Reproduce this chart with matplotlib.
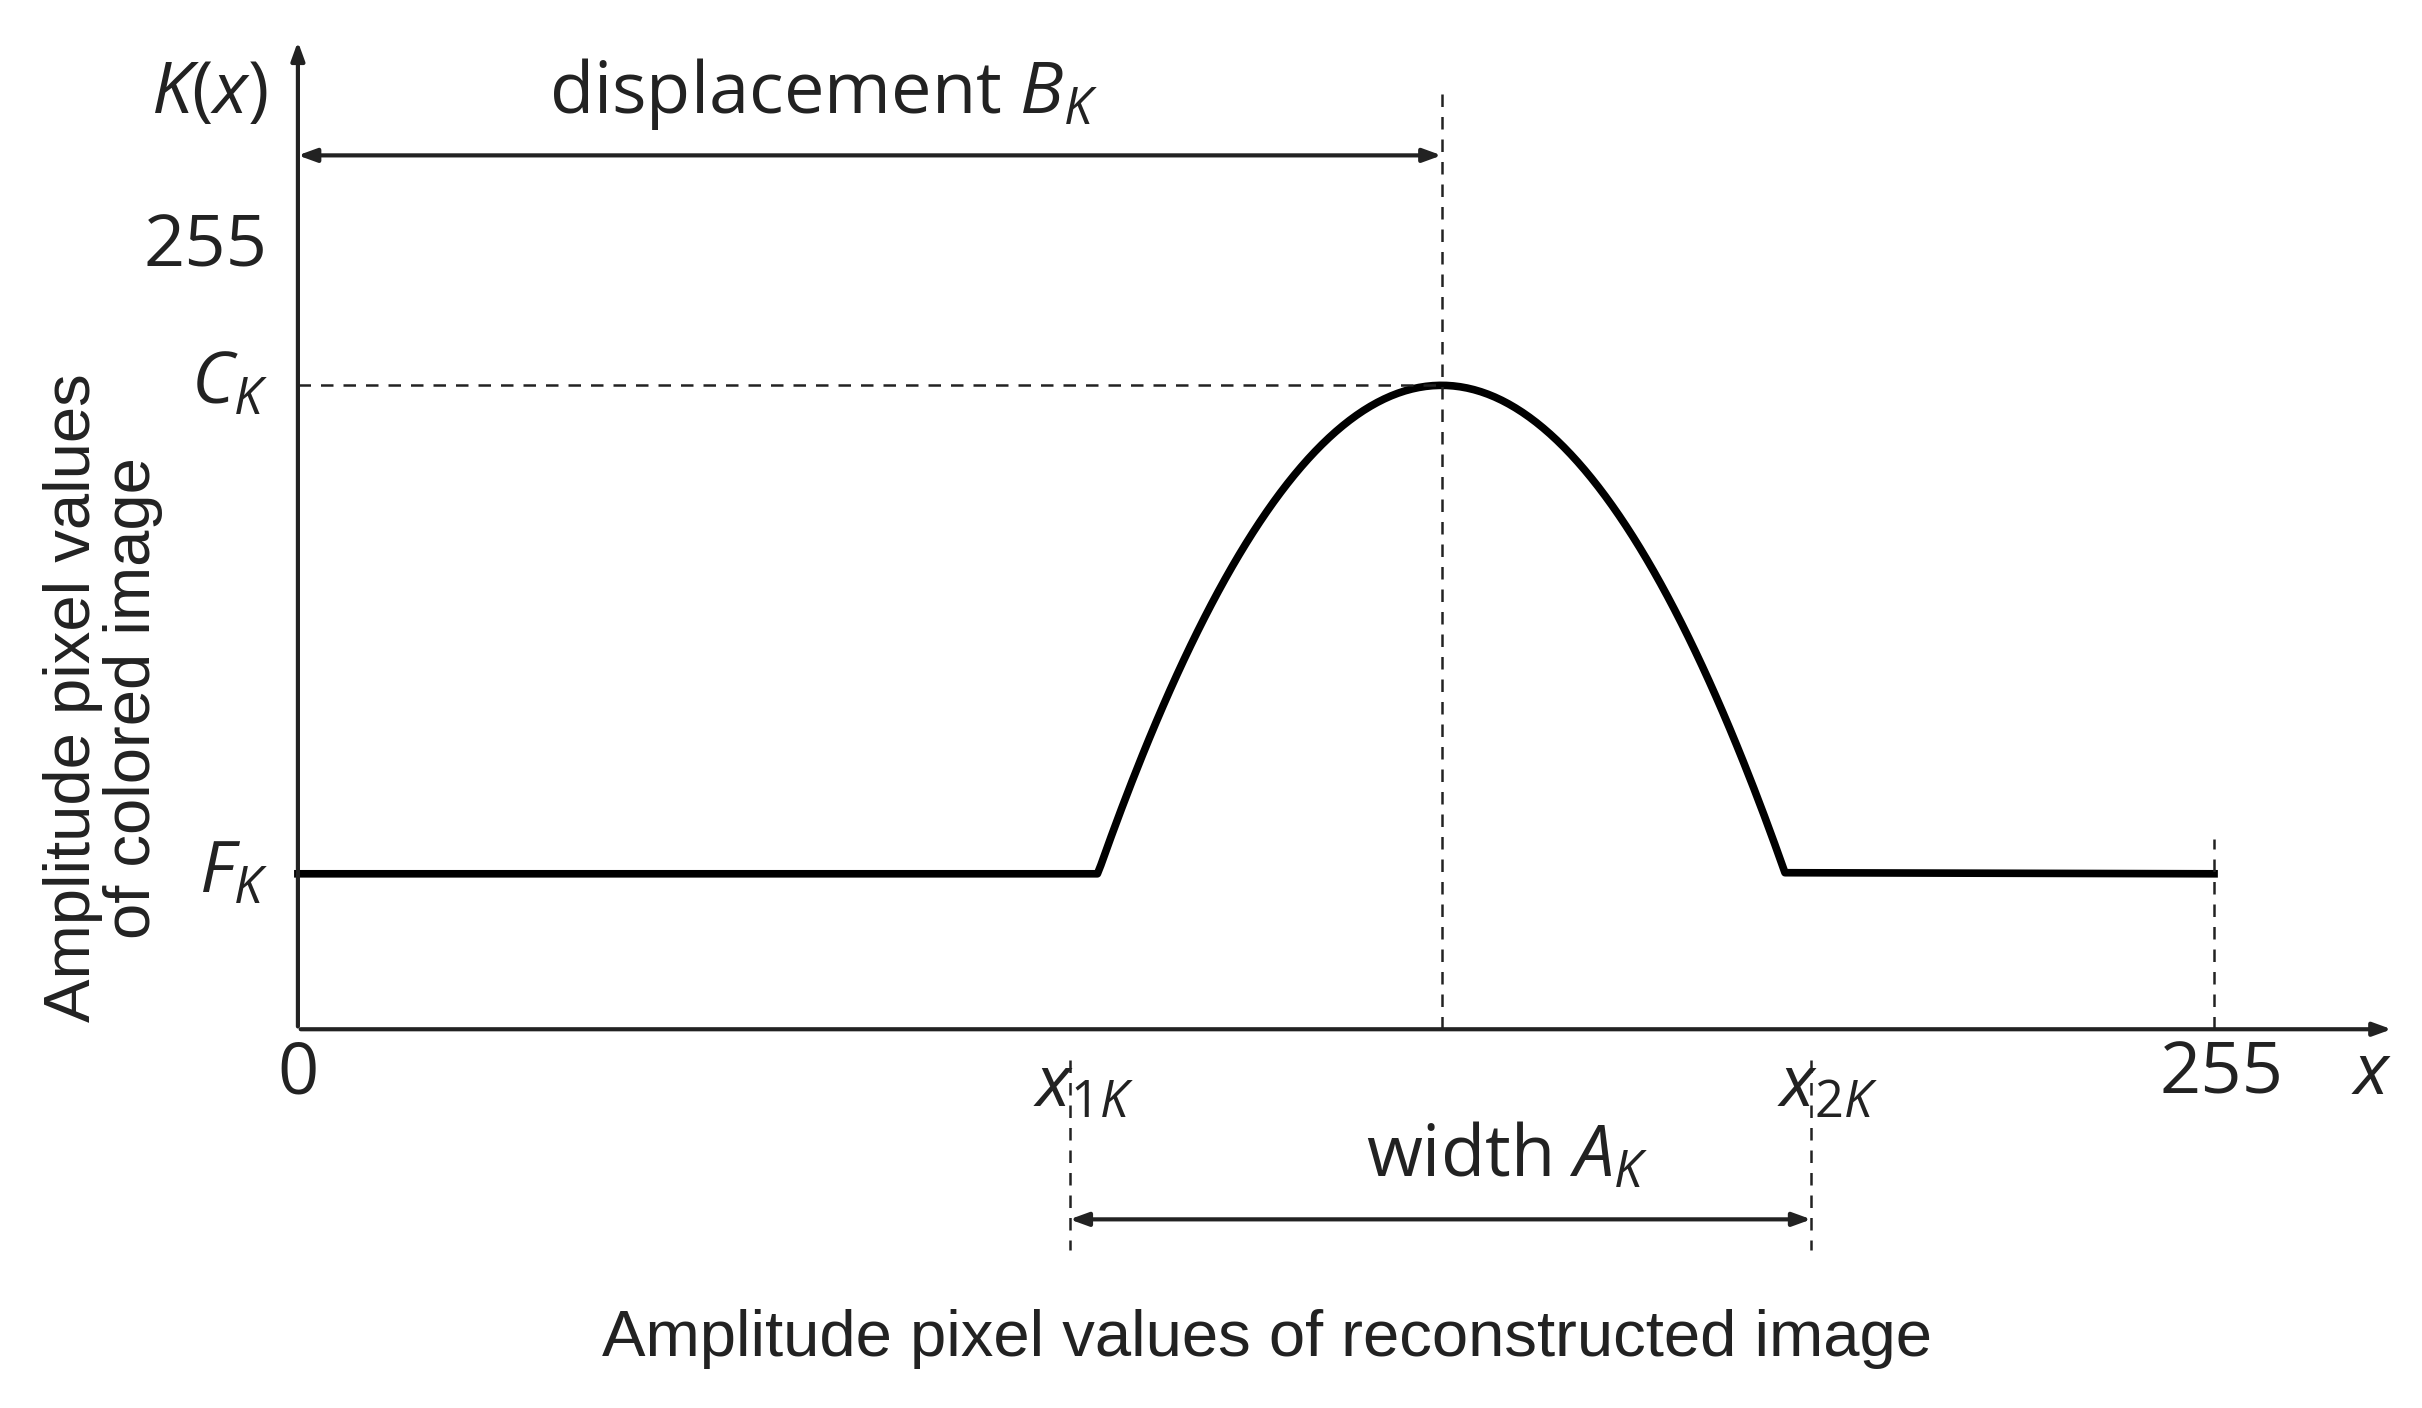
import matplotlib.pyplot as plt
import numpy as np

plt.rcParams['font.family'] = ['Open Sans', 'DejaVu Sans']
plt.rcParams['mathtext.fontset'] = 'custom'
plt.rcParams['mathtext.rm'] = 'Open Sans'
plt.rcParams['mathtext.it'] = 'Open Sans:italic'

# model parameters (in pixel-value units, 0..255)
x1k = 106.4      # start of the bump
x2k = 197.9      # end of the bump
b_k = 152.2      # displacement (peak position)
c_k = 210.0      # peak level
f_k = 50.7       # base level
x_max = 255
width_marks = [102.7, 201.4]

fig = plt.figure(figsize=(24.22, 14.08), dpi=100)
ax = fig.add_axes([0.123, 0.269, 0.8656, 0.7034])
ax.set_xlim(0, 279)
ax.set_ylim(0, 323)
ax.axis('off')

# curve: flat base, parabolic bump, flat base
half = (x2k - x1k) / 2
xb = np.linspace(x1k, x2k, 200)
yb = c_k - (c_k - f_k) * ((xb - b_k) / half) ** 2
yb = np.maximum(yb, f_k)
xs = np.concatenate([[0], xb, [x_max]])
ys = np.concatenate([[f_k], yb, [f_k]])
ax.plot(xs, ys, color='black', lw=5.5, clip_on=False)

# axes arrows
arr = dict(arrowstyle='-|>,head_length=1.1,head_width=0.4', color='#222222', lw=3)
ax.annotate('', xy=(279, 0), xytext=(0, 0), arrowprops=arr, annotation_clip=False)
ax.annotate('', xy=(0, 323), xytext=(0, 0), arrowprops=arr, annotation_clip=False)

# dashed guide lines
dk = dict(color='#222222', lw=1.8, ls=(0, (5, 4)), clip_on=False)
ax.plot([b_k, b_k], [0, 306], **dk)
ax.plot([0, b_k], [c_k, c_k], **dk)
ax.plot([x_max, x_max], [0, 62], **dk)
for xm in width_marks:
    ax.plot([xm, xm], [-10, -72], **dk)

# dimension arrows
dim = dict(arrowstyle='<|-|>,head_length=1.1,head_width=0.4', color='#222222', lw=3,
           shrinkA=0, shrinkB=0)
ax.annotate('', xy=(b_k, 285), xytext=(0, 285), arrowprops=dim, annotation_clip=False)
ax.annotate('', xy=(width_marks[1], -62), xytext=(width_marks[0], -62), arrowprops=dim,
            annotation_clip=False)

fs = 52
c = '#222222'
ax.text(-4, 305, r'$K$($x$)', ha='right', va='center', fontsize=fs, color=c)
ax.text(-4, 255, '255', ha='right', va='center', fontsize=fs, color=c)
ax.text(-4, c_k, r'$C_K$', ha='right', va='center', fontsize=fs, color=c)
ax.text(-4, f_k, r'$F_K$', ha='right', va='center', fontsize=fs, color=c)
ax.text(0, -15, '0', ha='center', va='center', fontsize=fs, color=c)
ax.text(104.5, -19, r'$x_{1K}$', ha='center', va='center', fontsize=fs, color=c)
ax.text(203.5, -19, r'$x_{2K}$', ha='center', va='center', fontsize=fs, color=c)
ax.text(256, -15, '255', ha='center', va='center', fontsize=fs, color=c)
ax.text(276, -15, r'$x$', ha='center', va='center', fontsize=fs, color=c)
ax.text(70, 305, r'displacement $B_K$', ha='center', va='center', fontsize=fs, color=c)
ax.text(161, -42, r'width $A_K$', ha='center', va='center', fontsize=fs, color=c)
ax.text(129, -101, 'Amplitude pixel values of reconstructed image', ha='center', va='center',
        fontsize=47, color=c, family='Liberation Sans')
ax.text(-26, 108, 'Amplitude pixel values\nof colored image', ha='center', va='center',
        rotation=90, fontsize=47, color=c, family='Liberation Sans', linespacing=1.0)

fig.savefig('out.png', dpi=100, facecolor='white')
